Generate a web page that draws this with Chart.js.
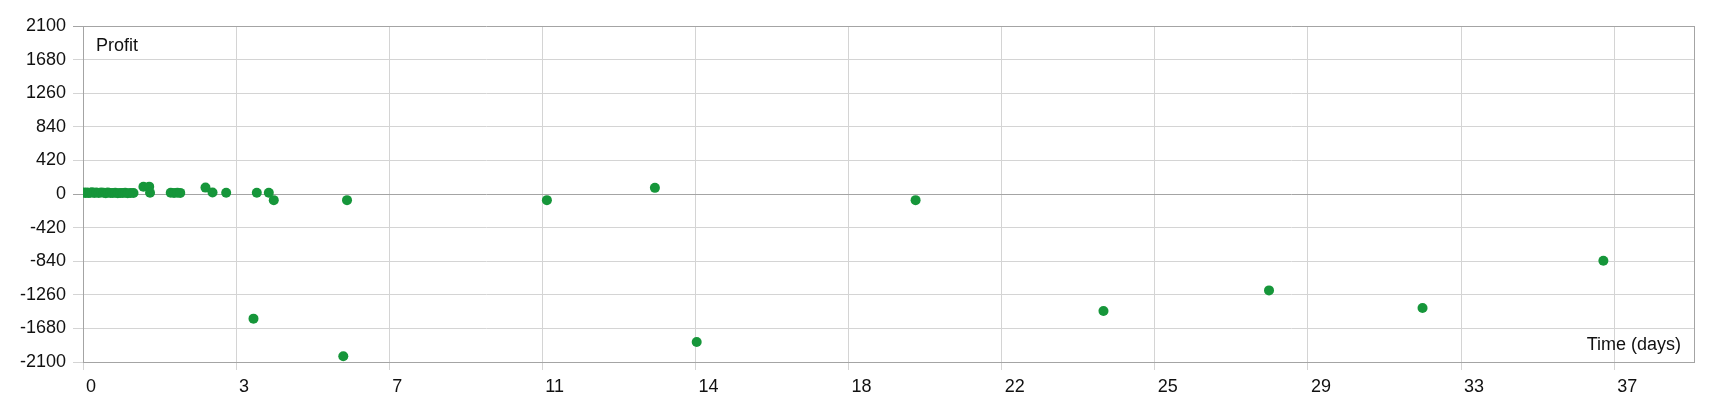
<!DOCTYPE html>
<html>
<head>
<meta charset="utf-8">
<script src="https://cdn.jsdelivr.net/npm/chart.js"></script>
<style>
  html, body { margin: 0; padding: 0; background: #fff; }
  #wrap { width: 1720px; height: 400px; }
</style>
</head>
<body>
<div id="wrap"><canvas id="profitChart"></canvas></div>
<script>
  // time in days, profit per trade
  const timeDays = [0.02, 0.06, 0.10, 0.14, 0.18, 0.22, 0.27, 0.32, 0.38, 0.44, 0.50, 0.55, 0.60, 0.66, 0.72,
    0.78, 0.84, 0.90, 0.96, 1.02, 1.08, 1.15, 1.22, 1.46, 1.60, 1.62,
    2.12, 2.20, 2.28, 2.35, 2.96, 3.13, 3.46, 4.12, 4.20, 4.49, 4.61, 6.29, 6.38,
    11.21, 13.82, 14.83, 20.12, 24.66, 28.66, 32.37, 36.74];
  const profit = [18, 14, 20, 12, 16, 22, 14, 18, 12, 20, 15, 10, 18, 14, 12,
    16, 10, 14, 12, 15, 10, 14, 12, 90, 92, 15,
    15, 12, 15, 14, 80, 19, 15, -1558, 15, 15, -77, -2029, -77,
    -77, 77, -1850, -77, -1463, -1205, -1424, -835];

  const yMin = -2100, yMax = 2100, yStep = 420;
  const xStep = 3.7, xMax = 38.93;

  const gridLight = '#d4d4d4';
  const gridDark = '#a4a4a4';
  const font = { family: '"Liberation Sans", Arial, sans-serif', size: 18 };

  const axisTitles = {
    id: 'axisTitles',
    afterDraw(chart) {
      const { ctx, chartArea } = chart;
      ctx.save();
      ctx.font = '18px "Liberation Sans", Arial, sans-serif';
      ctx.fillStyle = '#111';
      ctx.textBaseline = 'alphabetic';
      ctx.textAlign = 'left';
      ctx.fillText('Profit', chartArea.left + 13, chartArea.top + 25);
      ctx.textAlign = 'right';
      ctx.fillText('Time (days)', chartArea.right - 13, chartArea.bottom - 12);
      ctx.restore();
    }
  };

  const ctx = document.getElementById('profitChart').getContext('2d');

  new Chart(ctx, {
    type: 'scatter',
    data: {
      datasets: [{
        label: 'Profit',
        data: timeDays.map((t, i) => ({ x: t, y: profit[i] })),
        backgroundColor: '#16963a',
        borderWidth: 0,
        pointRadius: 5,
        pointHoverRadius: 5
      }]
    },
    options: {
      responsive: true,
      maintainAspectRatio: false,
      animation: false,
      layout: { padding: { top: 26, right: 26, left: 0, bottom: 0 } },
      plugins: {
        legend: { display: false },
        tooltip: { enabled: false }
      },
      scales: {
        x: {
          type: 'linear',
          min: 0,
          max: xMax,
          afterBuildTicks: (scale) => {
            const ticks = [];
            for (let i = 0; i * xStep <= xMax; i++) ticks.push({ value: i * xStep });
            ticks.push({ value: xMax });
            scale.ticks = ticks;
          },
          afterFit: (scale) => { scale.height = 38; },
          border: { color: gridDark },
          grid: {
            color: (c) => (c.tick && c.tick.value === xMax ? gridDark : gridLight),
            tickColor: (c) => (c.tick && c.tick.value === xMax ? 'rgba(0,0,0,0)' : gridLight),
            tickLength: 8
          },
          ticks: {
            autoSkip: false,
            maxRotation: 0,
            align: 'start',
            labelOffset: 3,
            padding: 6,
            color: '#111',
            font: font,
            callback: (v) => (v === xMax ? '' : Math.floor(v + 1e-6))
          }
        },
        y: {
          min: yMin,
          max: yMax,
          afterFit: (scale) => { scale.width = 83; },
          border: { color: gridDark },
          grid: {
            color: (c) => (c.tick && (c.tick.value === 0 || c.tick.value === yMax) ? gridDark : gridLight),
            tickLength: 10
          },
          ticks: {
            stepSize: yStep,
            padding: 7,
            color: '#111',
            font: font,
            callback: (v) => String(v)
          }
        }
      }
    },
    plugins: [axisTitles]
  });
</script>
</body>
</html>
